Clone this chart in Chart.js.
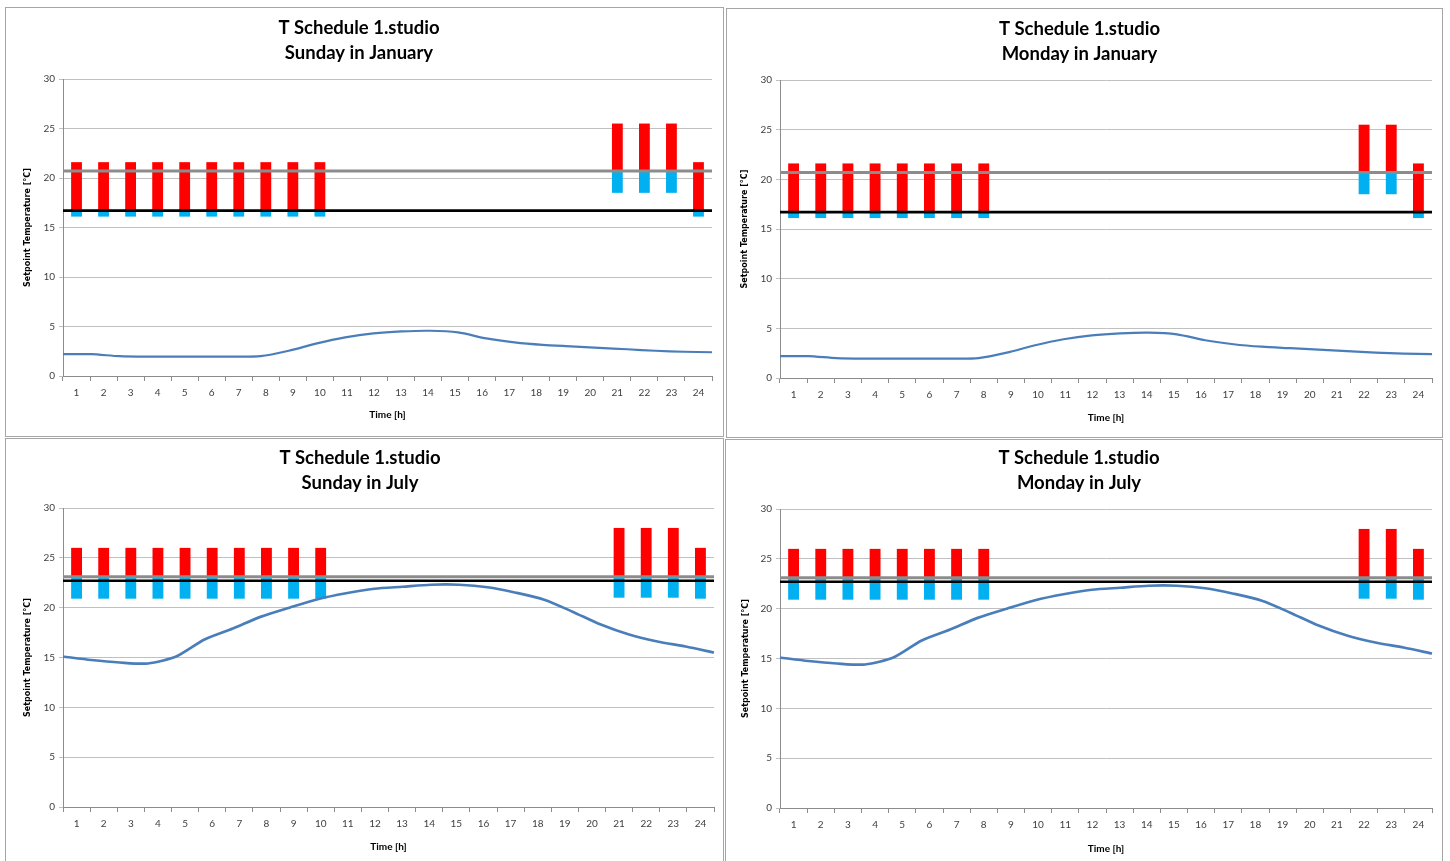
<!DOCTYPE html>
<html>
<head>
<meta charset="utf-8">
<script src="https://cdn.jsdelivr.net/npm/chart.js@4.4.1/dist/chart.umd.min.js"></script>
<style>
  body { margin: 0; background: #fff; width: 1450px; height: 861px; overflow: hidden; position: relative; }
  .panel { position: absolute; border: 1px solid #a6a6a6; background: #fff; }
  canvas { display: block; }
</style>
</head>
<body>
<div class="panel" style="left:5px;top:7px;"><canvas id="c1" width="717" height="428"></canvas></div>
<div class="panel" style="left:726px;top:8px;"><canvas id="c2" width="715" height="428"></canvas></div>
<div class="panel" style="left:5px;top:438px;"><canvas id="c3" width="717" height="428"></canvas></div>
<div class="panel" style="left:725px;top:439px;"><canvas id="c4" width="716" height="428"></canvas></div>
<script>
// Stunden
const hours = ['1','2','3','4','5','6','7','8','9','10','11','12','13','14','15','16','17','18','19','20','21','22','23','24'];
const yTicks = [0, 5, 10, 15, 20, 25, 30];

// Sonntag Januar
const sunJanRedTop  = [21.6,21.6,21.6,21.6,21.6,21.6,21.6,21.6,21.6,21.6,null,null,null,null,null,null,null,null,null,null,25.5,25.5,25.5,21.6];
const sunJanMid     = [16.7,16.7,16.7,16.7,16.7,16.7,16.7,16.7,16.7,16.7,null,null,null,null,null,null,null,null,null,null,20.7,20.7,20.7,16.7];
const sunJanBlueLow = [16.1,16.1,16.1,16.1,16.1,16.1,16.1,16.1,16.1,16.1,null,null,null,null,null,null,null,null,null,null,18.5,18.5,18.5,16.1];

// Montag Januar
const monJanRedTop  = [21.6,21.6,21.6,21.6,21.6,21.6,21.6,21.6,null,null,null,null,null,null,null,null,null,null,null,null,null,25.5,25.5,21.6];
const monJanMid     = [16.7,16.7,16.7,16.7,16.7,16.7,16.7,16.7,null,null,null,null,null,null,null,null,null,null,null,null,null,20.7,20.7,16.7];
const monJanBlueLow = [16.1,16.1,16.1,16.1,16.1,16.1,16.1,16.1,null,null,null,null,null,null,null,null,null,null,null,null,null,18.5,18.5,16.1];

// Sonntag Juli
const sunJulRedTop  = [26.0,26.0,26.0,26.0,26.0,26.0,26.0,26.0,26.0,26.0,null,null,null,null,null,null,null,null,null,null,28.0,28.0,28.0,26.0];
const sunJulMid     = [23.1,23.1,23.1,23.1,23.1,23.1,23.1,23.1,23.1,23.1,null,null,null,null,null,null,null,null,null,null,23.1,23.1,23.1,23.1];
const sunJulBlueLow = [20.9,20.9,20.9,20.9,20.9,20.9,20.9,20.9,20.9,20.9,null,null,null,null,null,null,null,null,null,null,21.0,21.0,21.0,20.9];

// Montag Juli
const monJulRedTop  = [26.0,26.0,26.0,26.0,26.0,26.0,26.0,26.0,null,null,null,null,null,null,null,null,null,null,null,null,null,28.0,28.0,26.0];
const monJulMid     = [23.1,23.1,23.1,23.1,23.1,23.1,23.1,23.1,null,null,null,null,null,null,null,null,null,null,null,null,null,23.1,23.1,23.1];
const monJulBlueLow = [20.9,20.9,20.9,20.9,20.9,20.9,20.9,20.9,null,null,null,null,null,null,null,null,null,null,null,null,null,21.0,21.0,20.9];

// Aussentemperatur
const janOutdoor = [2.2,2.2,2.0,1.95,1.95,1.95,1.95,2.0,2.55,3.3,3.9,4.3,4.5,4.57,4.4,3.8,3.4,3.15,3.0,2.85,2.7,2.55,2.45,2.4];
const julOutdoor = [15.1,14.75,14.5,14.4,15.1,16.8,17.9,19.1,20.0,20.85,21.45,21.9,22.1,22.3,22.3,22.05,21.5,20.8,19.6,18.3,17.3,16.6,16.1,15.5];

// Sollwert-Linien
const janUpperLine = 20.7;
const janLowerLine = 16.7;
const julUpperLine = 23.1;
const julLowerLine = 22.7;

function pairs(lo, hi) {
    return lo.map((v, i) => (v === null || hi[i] === null) ? null : [v, hi[i]]);
}

const refLines = {
    id: 'refLines',
    afterDatasetsDraw(chart, args, opts) {
        const { ctx, chartArea, scales } = chart;
        opts.lines.forEach(l => {
            const y = scales.y.getPixelForValue(l.value);
            ctx.save();
            ctx.strokeStyle = l.color;
            ctx.lineWidth = l.width;
            ctx.beginPath();
            ctx.moveTo(chartArea.left, y);
            ctx.lineTo(chartArea.right, y);
            ctx.stroke();
            ctx.restore();
        });
    }
};

const panels = [
    { id: 'c1', sub: 'Sunday in January', red: sunJanRedTop, mid: sunJanMid, blue: sunJanBlueLow, outdoor: janOutdoor, upper: janUpperLine, lower: janLowerLine,
      left: 57, padRight: 11, top: 71, xH: 60, titleY: 20, yTitleX: 22, xTitleY: 407, lineW: 2.2 },
    { id: 'c2', sub: 'Monday in January', red: monJanRedTop, mid: monJanMid, blue: monJanBlueLow, outdoor: janOutdoor, upper: janUpperLine, lower: janLowerLine,
      left: 53, padRight: 10, top: 71, xH: 59, titleY: 20, yTitleX: 18, xTitleY: 409, lineW: 2.2 },
    { id: 'c3', sub: 'Sunday in July', red: sunJulRedTop, mid: sunJulMid, blue: sunJulBlueLow, outdoor: julOutdoor, upper: julUpperLine, lower: julLowerLine,
      left: 57, padRight: 9, top: 69, xH: 60, titleY: 19, yTitleX: 22, xTitleY: 408, lineW: 2.7 },
    { id: 'c4', sub: 'Monday in July', red: monJulRedTop, mid: monJulMid, blue: monJulBlueLow, outdoor: julOutdoor, upper: julUpperLine, lower: julLowerLine,
      left: 54, padRight: 10, top: 69, xH: 60, titleY: 18, yTitleX: 20, xTitleY: 409, lineW: 2.7 }
];

panels.forEach(p => {
    const canvas = document.getElementById(p.id);
    const titleLH = 25;
    const titleSize = 18.5;
    new Chart(canvas, {
        type: 'bar',
        data: {
            labels: hours,
            datasets: [
                {
                    label: 'Heizen',
                    data: pairs(p.blue, p.mid),
                    backgroundColor: '#00b0f0',
                    grouped: false,
                    barPercentage: 0.4,
                    categoryPercentage: 1,
                    borderWidth: 0,
                    order: 3
                },
                {
                    label: 'Kuehlen',
                    data: pairs(p.mid, p.red),
                    backgroundColor: '#ff0000',
                    grouped: false,
                    barPercentage: 0.4,
                    categoryPercentage: 1,
                    borderWidth: 0,
                    order: 2
                },
                {
                    type: 'line',
                    label: 'Aussen',
                    data: p.outdoor,
                    xAxisID: 'xl',
                    borderColor: '#4a7ebb',
                    borderWidth: p.lineW,
                    pointRadius: 0,
                    tension: 0.25,
                    fill: false,
                    order: 1
                }
            ]
        },
        options: {
            responsive: false,
            animation: false,
            layout: { padding: { left: 0, right: p.padRight, top: 0, bottom: 0 } },
            plugins: {
                legend: { display: false },
                tooltip: { enabled: false },
                title: {
                    display: true,
                    text: ['T Schedule 1.studio', p.sub],
                    color: '#000',
                    font: { family: 'Lato', size: titleSize, weight: 'bold', lineHeight: titleLH / titleSize },
                    padding: { top: p.titleY - titleLH / 2, bottom: p.top - (p.titleY - titleLH / 2) - 2 * titleLH }
                },
                refLines: {
                    lines: [
                        { value: p.upper, color: '#8c8c8c', width: 3 },
                        { value: p.lower, color: '#000000', width: 2.6 }
                    ]
                }
            },
            scales: {
                x: {
                    offset: true,
                    grid: { offset: true, drawOnChartArea: false, drawTicks: true, tickLength: 5, color: '#8c8c8c' },
                    border: { color: '#8c8c8c' },
                    ticks: { color: '#404040', font: { family: 'Lato', size: 10 }, padding: 6, maxRotation: 0, autoSkip: false },
                    title: {
                        display: true,
                        text: 'Time [h]',
                        color: '#000',
                        font: { family: 'Lato', size: 10, weight: 'bold', lineHeight: 1.2 },
                        padding: { top: 0, bottom: 428 - p.xTitleY - 6 }
                    },
                    afterFit: s => { s.height = p.xH; }
                },
                xl: {
                    type: 'category',
                    display: false,
                    offset: false
                },
                y: {
                    min: 0,
                    max: 30,
                    afterBuildTicks: s => { s.ticks = yTicks.map(v => ({ value: v })); },
                    grid: { color: '#c0c0c0', drawTicks: true, tickLength: 4, lineWidth: 1 },
                    border: { color: '#8c8c8c' },
                    ticks: { color: '#404040', font: { family: 'Lato', size: 10 }, padding: 4 },
                    title: {
                        display: true,
                        text: 'Setpoint Temperature [°C]',
                        color: '#000',
                        font: { family: 'DejaVu Sans', size: 8, weight: 'bold', lineHeight: 1.2 },
                        padding: { top: p.yTitleX - 4.8, bottom: 0 }
                    },
                    afterFit: s => { s.width = p.left; }
                }
            }
        },
        plugins: [refLines]
    });
});
</script>
</body>
</html>
